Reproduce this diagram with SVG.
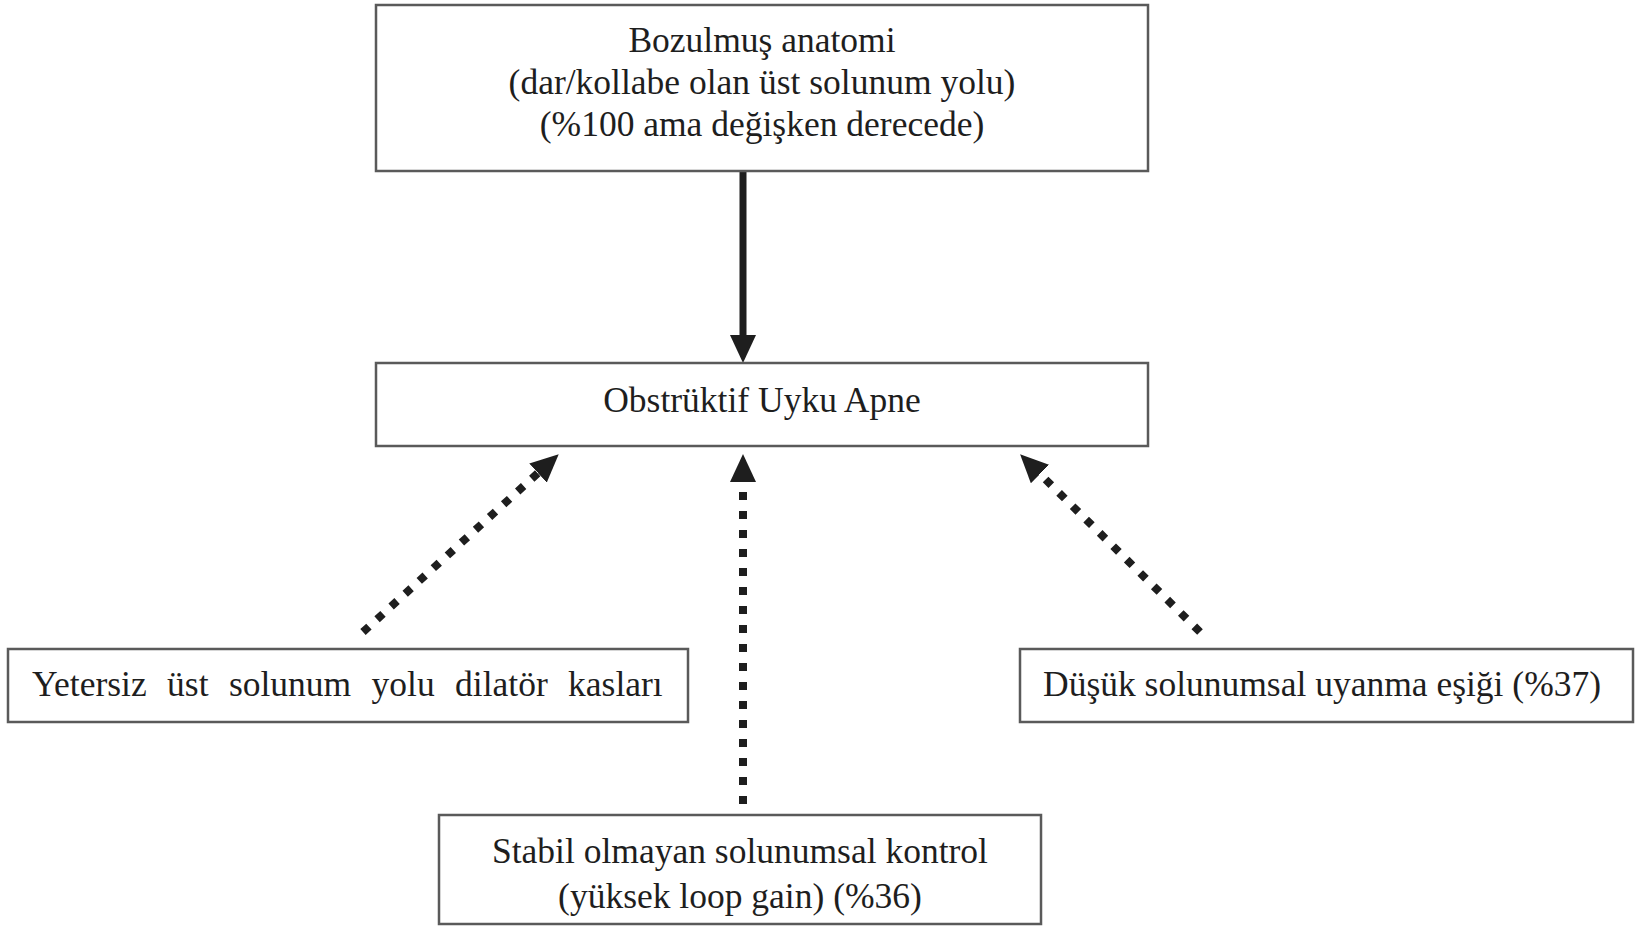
<svg xmlns="http://www.w3.org/2000/svg" width="1642" height="926" viewBox="0 0 1642 926">
<style>
.box{fill:#fff;stroke:#5a5a5a;stroke-width:2.5}
.t{font-family:"Liberation Serif","Times New Roman",serif;font-size:35.5px;fill:#1e1e1e}
.c{text-anchor:middle}
.solid{stroke:#1e1e1e;stroke-width:7;fill:none}
.dot{stroke:#1e1e1e;stroke-width:8;fill:none;stroke-dasharray:8 11}
</style>
<defs>
<marker id="head" viewBox="0 0 28 26" refX="0" refY="13" markerWidth="28" markerHeight="26" markerUnits="userSpaceOnUse" orient="auto">
<path d="M0,0 L28,13 L0,26 Z" fill="#1e1e1e"/>
</marker>
</defs>
<rect width="1642" height="926" fill="#fff"/>
<g id="connectors">
<line class="solid" x1="743" y1="171" x2="743" y2="335" marker-end="url(#head)"/>
<line class="dot" x1="363" y1="632" x2="538" y2="473" marker-end="url(#head)"/>
<line class="dot" x1="743" y1="804" x2="743" y2="482" marker-end="url(#head)"/>
<line class="dot" x1="1200" y1="632" x2="1040" y2="474" marker-end="url(#head)"/>
</g>
<g id="node-anatomi">
<rect class="box" x="376" y="5" width="772" height="166"/>
<text class="t c" x="762" y="52">Bozulmuş anatomi</text>
<text class="t c" x="762" y="94">(dar/kollabe olan üst solunum yolu)</text>
<text class="t c" x="762" y="136">(%100 ama değişken derecede)</text>
</g>
<g id="node-osa">
<rect class="box" x="376" y="363" width="772" height="83"/>
<text class="t c" x="762" y="412">Obstrüktif Uyku Apne</text>
</g>
<g id="node-dilator">
<rect class="box" x="8" y="649" width="680" height="73"/>
<text class="t" x="32" y="696" word-spacing="11.5">Yetersiz üst solunum yolu dilatör kasları</text>
</g>
<g id="node-arousal">
<rect class="box" x="1020" y="649" width="613" height="73"/>
<text class="t" x="1043" y="696">Düşük solunumsal uyanma eşiği (%37)</text>
</g>
<g id="node-loopgain">
<rect class="box" x="439" y="815" width="602" height="109"/>
<text class="t c" x="740" y="863">Stabil olmayan solunumsal kontrol</text>
<text class="t c" x="740" y="908">(yüksek loop gain) (%36)</text>
</g>
</svg>
